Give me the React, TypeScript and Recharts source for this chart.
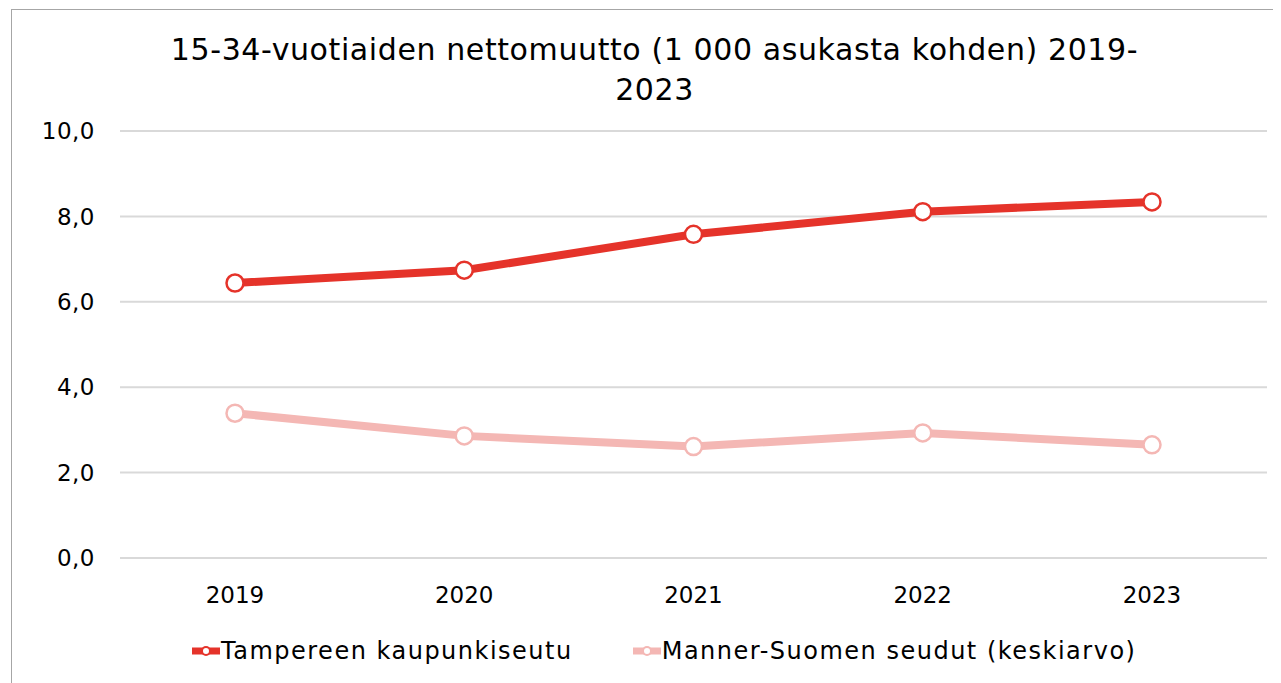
import { LineChart, Line, CartesianGrid, XAxis, YAxis, Legend } from "recharts";

const years = ["2019", "2020", "2021", "2022", "2023"];
const tampere = [6.44, 6.74, 7.58, 8.11, 8.34];
const mannerSuomi = [3.39, 2.86, 2.61, 2.93, 2.65];
const yTicks = [0, 2, 4, 6, 8, 10];

const seriesNames = {
  tampere: "Tampereen kaupunkiseutu",
  manner: "Manner-Suomen seudut (keskiarvo)",
};

const RED = "#e5332a";
const PINK = "#f4b7b4";
const FONT = "'DejaVu Sans', sans-serif";

const chartData = years.map((year, i) => ({
  year,
  tampere: tampere[i],
  manner: mannerSuomi[i],
}));

const LegendContent = () => {
  const items = [
    { name: seriesNames.tampere, color: RED },
    { name: seriesNames.manner, color: PINK },
  ];
  return (
    <div style={{ display: "flex", height: 40, alignItems: "center", paddingLeft: 184, gap: 60 }}>
      {items.map((item) => (
        <div key={item.name} style={{ display: "flex", alignItems: "center" }}>
          <svg width={28} height={14}>
            <line x1={1} y1={7} x2={27} y2={7} stroke={item.color} strokeWidth={7} strokeLinecap="round" />
            <circle cx={14} cy={7} r={4} fill="#fff" stroke={item.color} strokeWidth={2} />
          </svg>
          <span style={{ fontFamily: FONT, fontSize: 24, letterSpacing: 1.5, color: "#000", marginLeft: 1 }}>
            {item.name}
          </span>
        </div>
      ))}
    </div>
  );
};

export default function App() {
  const fmt = (v: number) => v.toFixed(1).replace(".", ",");
  return (
    <div style={{ position: "relative", width: 1273, height: 675 }}>
      <div
        style={{
          position: "absolute",
          left: 3,
          top: 1,
          width: 1280,
          height: 700,
          borderLeft: "1px solid #a6a6a6",
          borderTop: "1px solid #a6a6a6",
          pointerEvents: "none",
        }}
      />
      <div
        style={{
          position: "absolute",
          left: 0,
          top: 22,
          width: 1293,
          textAlign: "center",
          fontFamily: FONT,
          fontSize: 30,
          letterSpacing: 0.6,
          lineHeight: "40px",
          color: "#000",
        }}
      >
        15-34-vuotiaiden nettomuutto (1 000 asukasta kohden) 2019-
        <br />
        2023
      </div>
      <LineChart
        width={1273}
        height={675}
        data={chartData}
        margin={{ top: 123, right: 14, left: 0, bottom: 12 }}
      >
        <CartesianGrid vertical={false} stroke="#d9d9d9" strokeWidth={2} />
        <XAxis
          dataKey="year"
          axisLine={false}
          tickLine={false}
          tickSize={0}
          tickMargin={29}
          height={73}
          padding={{ left: 115, right: 115 }}
          tick={{ fill: "#000", fontSize: 23, fontFamily: FONT }}
        />
        <YAxis
          domain={[0, 10]}
          ticks={yTicks}
          tickFormatter={fmt}
          axisLine={false}
          tickLine={false}
          tickSize={0}
          tickMargin={25}
          width={112}
          tick={{ fill: "#000", fontSize: 23, fontFamily: FONT, letterSpacing: 0.5 }}
        />
        <Legend verticalAlign="bottom" content={<LegendContent />} />
        <Line
          dataKey="tampere"
          name={seriesNames.tampere}
          stroke={RED}
          strokeWidth={8}
          dot={{ r: 8.5, fill: "#fff", stroke: RED, strokeWidth: 2.5 }}
          isAnimationActive={false}
        />
        <Line
          dataKey="manner"
          name={seriesNames.manner}
          stroke={PINK}
          strokeWidth={8}
          dot={{ r: 8.5, fill: "#fff", stroke: PINK, strokeWidth: 2.5 }}
          isAnimationActive={false}
        />
      </LineChart>
    </div>
  );
}
